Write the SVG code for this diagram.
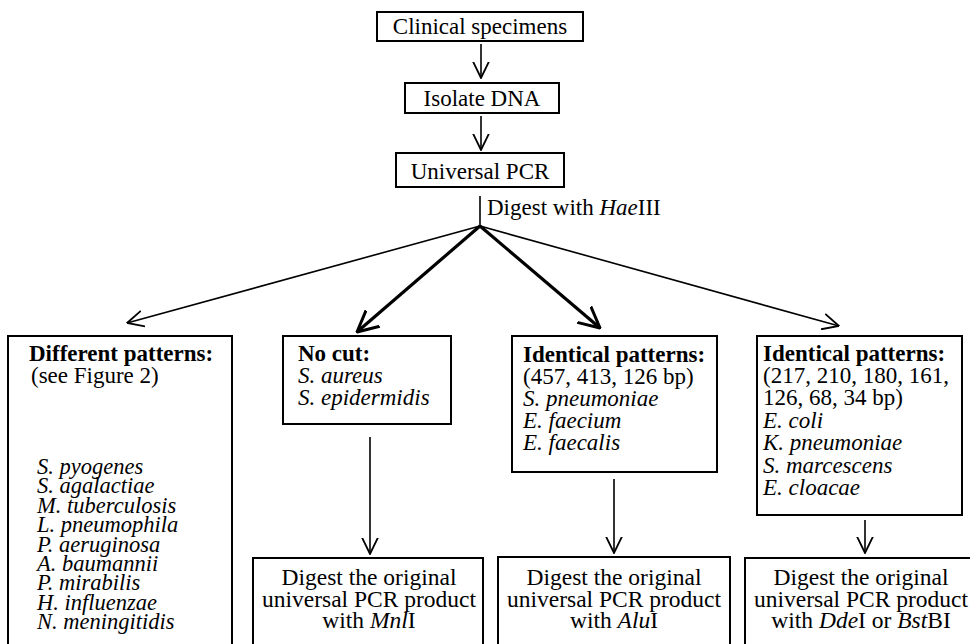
<svg xmlns="http://www.w3.org/2000/svg" width="970" height="644" viewBox="0 0 970 644" font-family="'Liberation Serif', 'Times New Roman', Tinos, 'DejaVu Serif', serif">
<style>
text { font-family: 'Liberation Serif', 'Times New Roman', Tinos, 'DejaVu Serif', serif; font-size: 23px; fill: #000; }
.b { font-weight: bold; }
.i { font-style: italic; }
.c { text-anchor: middle; }
.li { font-style: italic; font-size: 22.5px; }
.dg { font-size: 23.5px; }
.box { fill: #fff; stroke: #000; stroke-width: 2; }
.thin { stroke: #000; stroke-width: 1.6; fill: none; }
.thick { stroke: #000; stroke-width: 3.2; fill: none; }
.ah { fill: none; stroke: #000; stroke-width: 1.8; }
.ahb { fill: none; stroke: #000; stroke-width: 3; }
</style>
<defs>
<marker id="arr" viewBox="0 0 17 18" refX="16.5" refY="9" markerWidth="17" markerHeight="18" markerUnits="userSpaceOnUse" orient="auto">
<path class="ah" d="M0,1 L16.5,9 L0,17"/>
</marker>
<marker id="arrb" viewBox="0 0 22 24" refX="21" refY="12" markerWidth="22" markerHeight="24" markerUnits="userSpaceOnUse" orient="auto">
<path class="ahb" d="M0,1.5 L21,12 L0,22.5"/>
</marker>
</defs>

<g id="connectors">
<line class="thin" x1="481" y1="44" x2="481" y2="78" marker-end="url(#arr)"/>
<line class="thin" x1="481" y1="116" x2="481" y2="150" marker-end="url(#arr)"/>
<line class="thin" x1="480" y1="196" x2="480" y2="226"/>
<line class="thin" x1="480" y1="226" x2="127" y2="323" marker-end="url(#arr)"/>
<line class="thick" x1="480" y1="226" x2="357" y2="332" marker-end="url(#arrb)"/>
<line class="thick" x1="480" y1="226" x2="600" y2="328" marker-end="url(#arrb)"/>
<line class="thin" x1="480" y1="226" x2="839" y2="326" marker-end="url(#arr)"/>
<line class="thin" x1="370" y1="437" x2="370" y2="554" marker-end="url(#arr)"/>
<line class="thin" x1="614" y1="479" x2="614" y2="553" marker-end="url(#arr)"/>
<line class="thin" x1="865" y1="520" x2="865" y2="553" marker-end="url(#arr)"/>
<text x="487" y="215" font-size="22">Digest with <tspan class="i">Hae</tspan>III</text>
</g>

<g id="clinical">
<rect class="box" x="377" y="12" width="206" height="29"/>
<text class="c" x="480" y="34" font-size="22">Clinical specimens</text>
</g>

<g id="isolate">
<rect class="box" x="405" y="83" width="154" height="30"/>
<text class="c" x="482" y="106" font-size="22">Isolate DNA</text>
</g>

<g id="pcr">
<rect class="box" x="396" y="153" width="168" height="34"/>
<text class="c" x="480" y="179" font-size="22">Universal PCR</text>
</g>

<g id="different">
<rect class="box" x="8" y="336" width="224" height="320"/>
<text class="b" x="29" y="361">Different patterns:</text>
<text x="31" y="383">(see Figure 2)</text>
<text class="li" x="37" y="474">S. pyogenes</text>
<text class="li" x="37" y="493.4">S. agalactiae</text>
<text class="li" x="37" y="512.8">M. tuberculosis</text>
<text class="li" x="37" y="532.2">L. pneumophila</text>
<text class="li" x="37" y="551.6">P. aeruginosa</text>
<text class="li" x="37" y="571">A. baumannii</text>
<text class="li" x="37" y="590.4">P. mirabilis</text>
<text class="li" x="37" y="609.8">H. influenzae</text>
<text class="li" x="37" y="629.2">N. meningitidis</text>
</g>

<g id="nocut">
<rect class="box" x="283" y="336" width="168" height="88"/>
<text class="b" x="298" y="361">No cut:</text>
<text class="i" x="298" y="383">S. aureus</text>
<text class="i" x="298" y="405">S. epidermidis</text>
</g>

<g id="identical1">
<rect class="box" x="512" y="336" width="205" height="136"/>
<text class="b" x="523" y="362">Identical patterns:</text>
<text x="523" y="384">(457, 413, 126 bp)</text>
<text class="i" x="523" y="406">S.  pneumoniae</text>
<text class="i" x="523" y="428">E. faecium</text>
<text class="i" x="523" y="450">E. faecalis</text>
</g>

<g id="identical2">
<rect class="box" x="757" y="336" width="205" height="179"/>
<text class="b" x="763" y="361">Identical patterns:</text>
<text x="763" y="383">(217, 210, 180, 161,</text>
<text x="763" y="405">126, 68, 34 bp)</text>
<text class="i" x="763" y="427.5">E. coli</text>
<text class="i" x="763" y="450">K. pneumoniae</text>
<text class="i" x="763" y="472.5">S. marcescens</text>
<text class="i" x="763" y="495">E. cloacae</text>
</g>

<g id="mnl">
<rect class="box" x="253" y="558" width="230" height="100"/>
<text class="c dg" x="369" y="585">Digest the original</text>
<text class="c dg" x="369" y="606.5">universal PCR product</text>
<text class="c dg" x="369" y="628">with <tspan class="i">Mnl</tspan>I</text>
</g>

<g id="alu">
<rect class="box" x="498" y="557" width="232" height="100"/>
<text class="c dg" x="614" y="585">Digest the original</text>
<text class="c dg" x="614" y="606.5">universal PCR product</text>
<text class="c dg" x="614" y="628">with <tspan class="i">Alu</tspan>I</text>
</g>

<g id="dde">
<rect class="box" x="745" y="558" width="235" height="100"/>
<text class="c dg" x="861" y="585">Digest the original</text>
<text class="c dg" x="861" y="606.5">universal PCR product</text>
<text class="c dg" x="861" y="628">with <tspan class="i">Dde</tspan>I or <tspan class="i">Bst</tspan>BI</text>
</g>
</svg>
